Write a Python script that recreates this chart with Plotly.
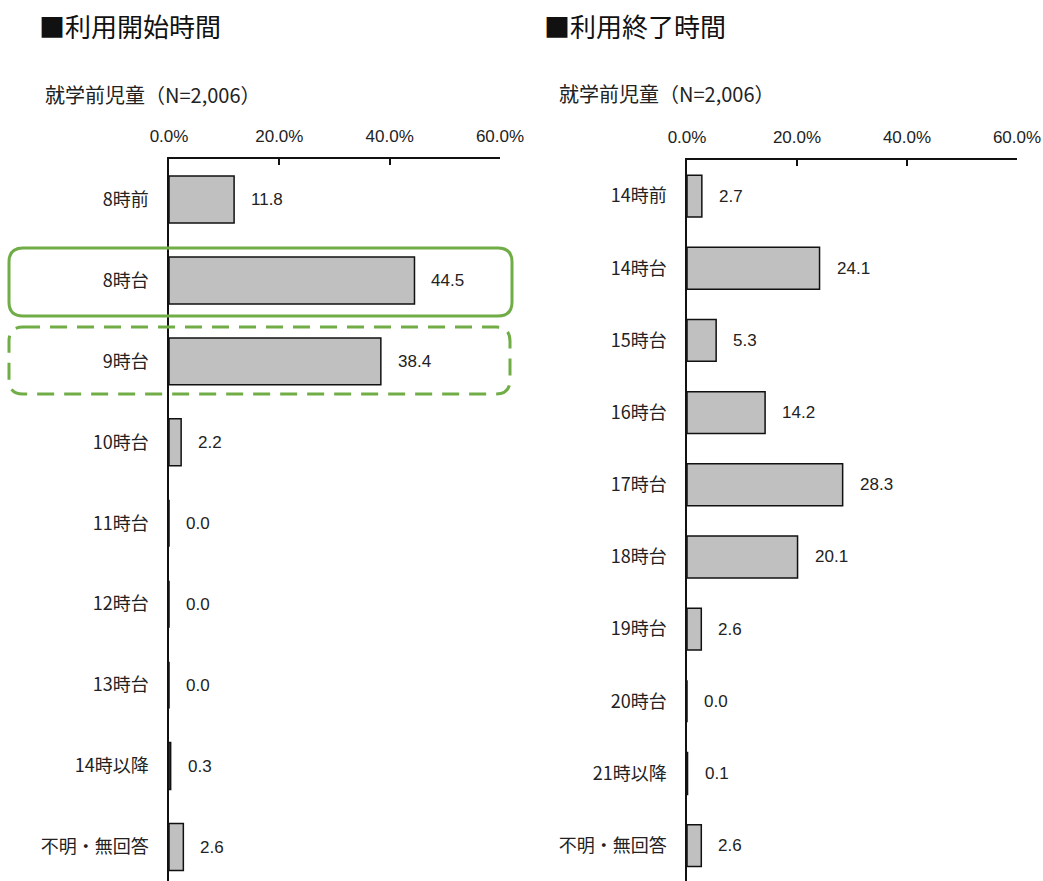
import plotly.graph_objects as go

W, H = 1043, 881

start_cats = ["8時前", "8時台", "9時台", "10時台", "11時台", "12時台", "13時台", "14時以降", "不明・無回答"]
start_vals = [11.8, 44.5, 38.4, 2.2, 0.0, 0.0, 0.0, 0.3, 2.6]

end_cats = ["14時前", "14時台", "15時台", "16時台", "17時台", "18時台", "19時台", "20時台", "21時以降", "不明・無回答"]
end_vals = [2.7, 24.1, 5.3, 14.2, 28.3, 20.1, 2.6, 0.0, 0.1, 2.6]

tick_vals = [0, 20, 40, 60]
tick_text = ["0.0%", "20.0%", "40.0%", "60.0%"]

FONT = "Noto Sans CJK JP"
NUMFONT = "Liberation Sans, Arial, sans-serif"
TXT = "#222222"


def px_x(x):
    return x / W


def px_y(y):
    return 1 - y / H


fig = go.Figure()

fig.add_trace(go.Bar(
    x=start_vals, y=start_cats, orientation="h", xaxis="x", yaxis="y",
    width=0.58, marker=dict(color="#c0c0c0", line=dict(color="#111111", width=1.5)),
    hoverinfo="skip", showlegend=False,
))
fig.add_trace(go.Bar(
    x=end_vals, y=end_cats, orientation="h", xaxis="x2", yaxis="y2",
    width=0.58, marker=dict(color="#c0c0c0", line=dict(color="#111111", width=1.5)),
    hoverinfo="skip", showlegend=False,
))

annotations = []
for c, v in zip(start_cats, start_vals):
    annotations.append(dict(x=v, y=c, xref="x", yref="y", text=f"{v:.1f}", showarrow=False,
                            xanchor="left", xshift=15, font=dict(family=NUMFONT, size=17, color=TXT)))
for c, v in zip(end_cats, end_vals):
    annotations.append(dict(x=v, y=c, xref="x2", yref="y2", text=f"{v:.1f}", showarrow=False,
                            xanchor="left", xshift=15, font=dict(family=NUMFONT, size=17, color=TXT)))

annotations += [
    dict(x=px_x(37), y=px_y(25), xref="paper", yref="paper", text="■利用開始時間", showarrow=False,
         xanchor="left", yanchor="middle", font=dict(family=FONT, size=26, color="#111111")),
    dict(x=px_x(542), y=px_y(25), xref="paper", yref="paper", text="■利用終了時間", showarrow=False,
         xanchor="left", yanchor="middle", font=dict(family=FONT, size=26, color="#111111")),
    dict(x=px_x(43), y=px_y(95), xref="paper", yref="paper", text="就学前児童（N=2,006）", showarrow=False,
         xanchor="left", yanchor="middle", font=dict(family=FONT, size=20, color=TXT)),
    dict(x=px_x(557), y=px_y(94), xref="paper", yref="paper", text="就学前児童（N=2,006）", showarrow=False,
         xanchor="left", yanchor="middle", font=dict(family=FONT, size=20, color=TXT)),
]


def rounded_path(x0, y0, x1, y1, r):
    X = px_x
    Y = px_y
    return (f"M {X(x0 + r)},{Y(y0)} L {X(x1 - r)},{Y(y0)} Q {X(x1)},{Y(y0)} {X(x1)},{Y(y0 + r)} "
            f"L {X(x1)},{Y(y1 - r)} Q {X(x1)},{Y(y1)} {X(x1 - r)},{Y(y1)} "
            f"L {X(x0 + r)},{Y(y1)} Q {X(x0)},{Y(y1)} {X(x0)},{Y(y1 - r)} "
            f"L {X(x0)},{Y(y0 + r)} Q {X(x0)},{Y(y0)} {X(x0 + r)},{Y(y0)} Z")


shapes = [
    dict(type="path", xref="paper", yref="paper", path=rounded_path(9, 248, 512, 316, 14),
         line=dict(color="#70ad47", width=3)),
    dict(type="path", xref="paper", yref="paper", path=rounded_path(9, 327, 510, 394, 14),
         line=dict(color="#70ad47", width=3, dash="17px,10px")),
]

xaxis_common = dict(
    range=[0, 60], side="top", tickvals=tick_vals, ticktext=tick_text,
    showline=True, linecolor="#111111", linewidth=1.5, ticks="inside", ticklen=6,
    tickcolor="#111111", tickwidth=1.5, showgrid=False, zeroline=False, automargin=False,
    ticklabelstandoff=8,
    tickfont=dict(family=NUMFONT, size=17, color=TXT), fixedrange=True,
)
yaxis_common = dict(
    showline=True, linecolor="#111111", linewidth=1.5, showgrid=False, zeroline=False,
    ticks="outside", ticklen=15, tickcolor="rgba(0,0,0,0)", automargin=False,
    tickfont=dict(family=FONT, size=18, color=TXT), fixedrange=True,
)

fig.update_layout(
    width=W, height=H, margin=dict(l=0, r=0, t=0, b=0, autoexpand=False),
    paper_bgcolor="white", plot_bgcolor="white",
    xaxis=dict(domain=[px_x(169), px_x(500)], anchor="y", **xaxis_common),
    yaxis=dict(domain=[0, px_y(159)], anchor="x", range=[8.42, -0.5],
               categoryorder="array", categoryarray=start_cats, **yaxis_common),
    xaxis2=dict(domain=[px_x(687), px_x(1017)], anchor="y2", **xaxis_common),
    yaxis2=dict(domain=[0, px_y(160)], anchor="x2", range=[9.49, -0.5],
                categoryorder="array", categoryarray=end_cats, **yaxis_common),
    annotations=annotations, shapes=shapes,
)

fig.write_html("out.html")
